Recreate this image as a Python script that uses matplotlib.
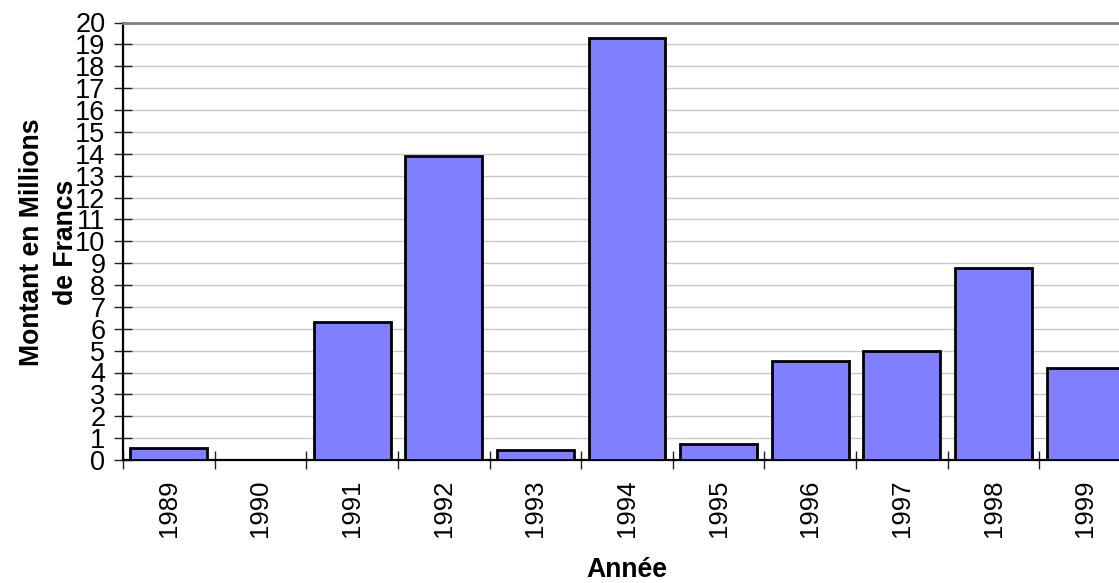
import matplotlib
matplotlib.use("Agg")
import matplotlib.pyplot as plt

years = ["1989", "1990", "1991", "1992", "1993", "1994", "1995", "1996", "1997", "1998", "1999"]
montants = [0.53, 0.0, 6.3, 13.88, 0.45, 19.27, 0.73, 4.52, 4.98, 8.78, 4.21]
y_ticks = list(range(0, 21))

plt.rcParams['font.family'] = ['Liberation Sans', 'DejaVu Sans']

W, H = 1119, 583
fig = plt.figure(figsize=(W / 100, H / 100), dpi=100)
left, right, top, bottom = 123, 1131, 22.5, 460
ax = fig.add_axes([left / W, (H - bottom) / H, (right - left) / W, (bottom - top) / H])

x = list(range(len(years)))
ax.bar(x, montants, width=0.84, color="#8080FF", edgecolor="black", linewidth=2.0, zorder=3)

ax.set_xlim(-0.5, len(years) - 0.5)
ax.set_ylim(0, 20)
ax.set_yticks(y_ticks)
ax.set_yticklabels([str(v) for v in y_ticks], fontsize=19.5)
ax.set_xticks([i + 0.5 for i in range(-1, len(years))], minor=False)
ax.set_xticklabels([])
ax.set_xticks(x, minor=True)
ax.set_xticklabels(years, minor=True, rotation=90, fontsize=18.5, va="top", ha="center")
ax.tick_params(axis="x", which="major", direction="inout", length=12.5, width=1, color="#222222")
ax.tick_params(axis="x", which="minor", length=0, pad=14.0)
ax.tick_params(axis="y", direction="inout", length=12.5, width=1, color="#222222", pad=6.5)

for v in y_ticks[1:-1]:
    ax.axhline(v, color="#c8c8c8", linewidth=1, zorder=1)

ax.spines["top"].set_color("#808080")
ax.spines["top"].set_linewidth(2)
ax.spines["right"].set_visible(False)
ax.spines["left"].set_color("black")
ax.spines["left"].set_linewidth(1.6)
ax.spines["bottom"].set_color("black")
ax.spines["bottom"].set_linewidth(1.6)

fig.text(32 / W, 1 - 242 / H, "Montant en Millions", rotation=90, fontsize=19.2,
         fontweight="bold", ha="center", va="center")
fig.text(66 / W, 1 - 242 / H, "de Francs", rotation=90, fontsize=19.2,
         fontweight="bold", ha="center", va="center")
fig.text(627 / W, 1 - 570 / H, "Année", fontsize=19.2, fontweight="bold",
         ha="center", va="center")

fig.savefig("out.png", dpi=100)
